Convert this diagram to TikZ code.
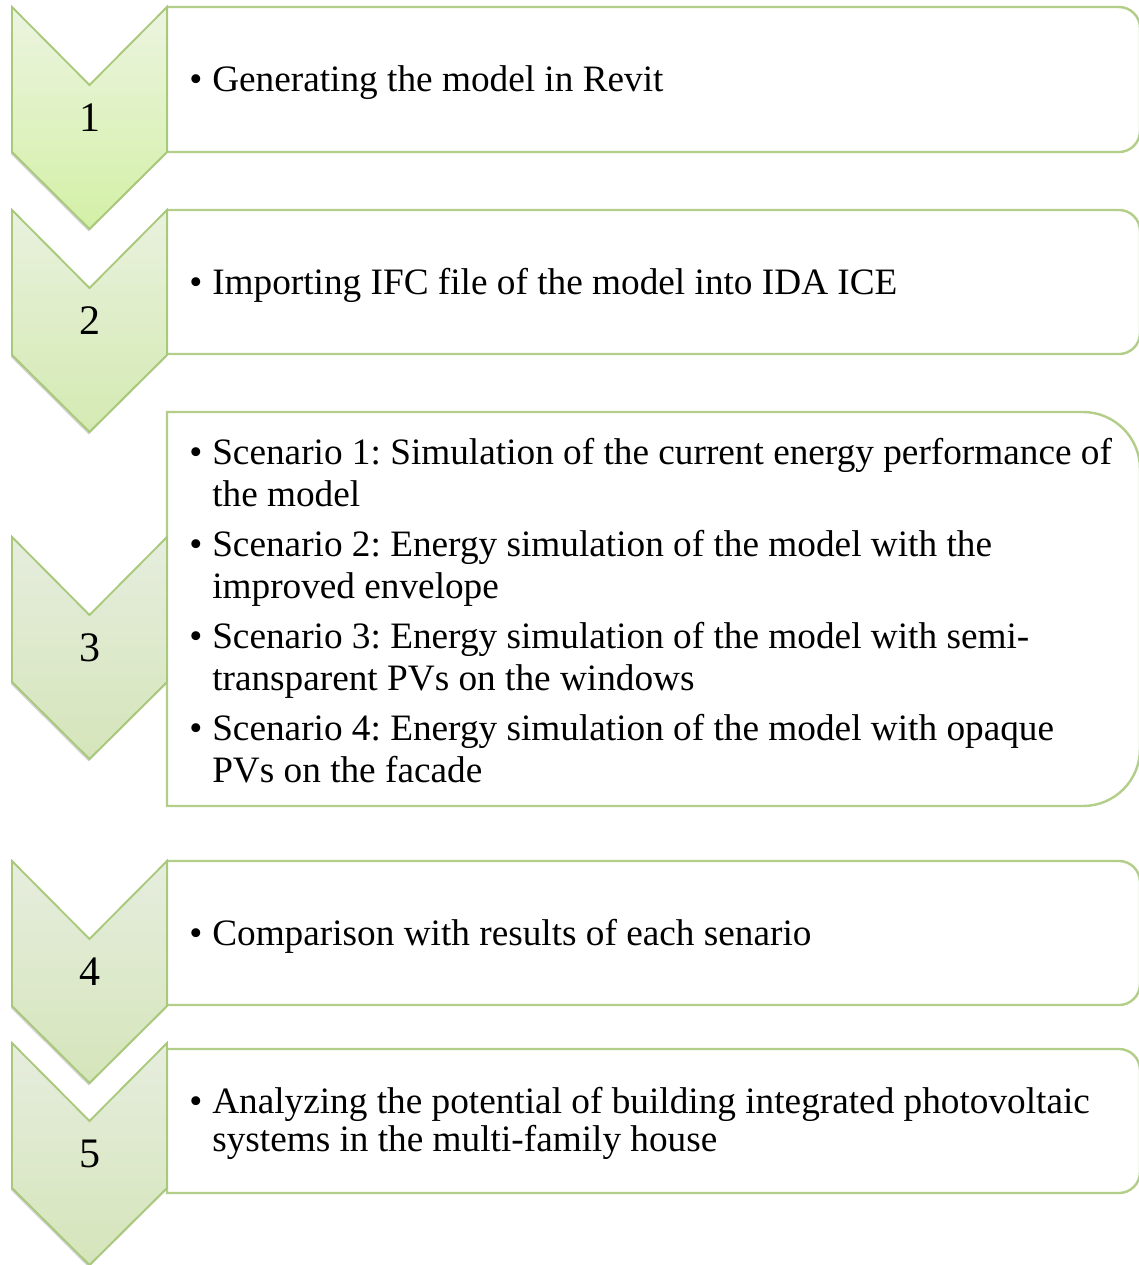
\documentclass[tikz,border=0pt]{standalone}
\usepackage{fontspec}
\setmainfont{Liberation Serif}
\usepackage{xcolor}
\usetikzlibrary{shadows}

\definecolor{chevline}{HTML}{A8C87A}
\definecolor{boxline}{HTML}{B2CE88}
\definecolor{chevtopA}{HTML}{ECF4E0}
\definecolor{chevbotA}{HTML}{D3F0A6}
\definecolor{chevtopB}{HTML}{E9F1DE}
\definecolor{chevbotB}{HTML}{D4EAB2}
\definecolor{chevtopC}{HTML}{E6EDDE}
\definecolor{chevbotC}{HTML}{D5E5BA}

\newcommand{\bitem}[1]{\par\spaceskip 0.25em\xspaceskip 0.25em\hangindent 17.25pt\hangafter 1\noindent\makebox[17.25pt][l]{\textbullet}#1\par}
\newcommand{\stepfont}[1]{\fontsize{27.95}{#1}\selectfont\frenchspacing}

\tikzset{
  chev/.style={draw=chevline, line width=1.4pt, line join=miter,
    drop shadow={shadow xshift=-0.6pt, shadow yshift=-1.8pt, opacity=0.18, fill=black}},
  listbox/.style={draw=boxline, line width=1.8pt, fill=white},
  numtext/.style={inner sep=0pt, font=\fontsize{31.5}{36}\selectfont},
  steptext/.style={anchor=west, inner sep=0pt, text width=760pt, align=left,
    font={\stepfont{31.5pt}}}
}

\begin{document}
\begin{tikzpicture}[x=0.75pt,y=0.75pt,yscale=-1,xscale=1]
\useasboundingbox (0,0) rectangle (1139,1265);

%Shape: Box 1
\draw[listbox] (167,152) -- (167,7) -- (1119,7) .. controls (1130.6,7) and (1140,16.4) .. (1140,28) -- (1140,131) .. controls (1140,142.6) and (1130.6,152) .. (1119,152) -- cycle ;
%Shape: Box 2
\draw[listbox] (167,354) -- (167,210) -- (1119,210) .. controls (1130.6,210) and (1140,219.4) .. (1140,231) -- (1140,333) .. controls (1140,344.6) and (1130.6,354) .. (1119,354) -- cycle ;
%Shape: Box 3
\draw[listbox] (167,806) -- (167,412) -- (1083,412) .. controls (1114.5,412) and (1140,437.5) .. (1140,469) -- (1140,749) .. controls (1140,780.5) and (1114.5,806) .. (1083,806) -- cycle ;
%Shape: Box 4
\draw[listbox] (167,1005) -- (167,861) -- (1119,861) .. controls (1130.6,861) and (1140,870.4) .. (1140,882) -- (1140,984) .. controls (1140,995.6) and (1130.6,1005) .. (1119,1005) -- cycle ;
%Shape: Box 5
\draw[listbox] (167,1193) -- (167,1049) -- (1119,1049) .. controls (1130.6,1049) and (1140,1058.4) .. (1140,1070) -- (1140,1172) .. controls (1140,1183.6) and (1130.6,1193) .. (1119,1193) -- cycle ;

%Shape: Chevron 1
\draw[chev, top color=chevtopA, bottom color=chevbotA] (12,7) -- (89.5,85) -- (167,7) -- (167,152) -- (89.5,229) -- (12,152) -- cycle ;
%Shape: Chevron 2
\draw[chev, top color=chevtopB, bottom color=chevbotB] (12,210) -- (89.5,288) -- (167,210) -- (167,355) -- (89.5,432) -- (12,355) -- cycle ;
%Shape: Chevron 3
\draw[chev, top color=chevtopC, bottom color=chevbotC] (12,537) -- (89.5,615) -- (167,537) -- (167,682) -- (89.5,759) -- (12,682) -- cycle ;
%Shape: Chevron 4
\draw[chev, top color=chevtopC, bottom color=chevbotC] (12,861) -- (89.5,939) -- (167,861) -- (167,1006) -- (89.5,1083) -- (12,1006) -- cycle ;
%Shape: Chevron 5
\draw[chev, top color=chevtopC, bottom color=chevbotC] (12,1043) -- (89.5,1121) -- (167,1043) -- (167,1188) -- (89.5,1265) -- (12,1188) -- cycle ;

% Number Nodes
\node[numtext] (num1) at (89.5,117.5) {1};
\node[numtext] (num2) at (89.5,320.5) {2};
\node[numtext] (num3) at (89.5,647.5) {3};
\node[numtext] (num4) at (89.5,971.5) {4};
\node[numtext] (num5) at (89.5,1154) {5};

% Text Nodes
\node[steptext] (txt1) at (189,75) {\bitem{Generating the model in Revit}};
\node[steptext] (txt2) at (189,278) {\bitem{Importing IFC file of the model into IDA ICE}};
\node[steptext] (txt3) at (189,599) {\setlength{\parskip}{6pt}%
  \bitem{Scenario 1: Simulation of the current energy performance of\newline the model}
  \bitem{Scenario 2: Energy simulation of the model with the\newline improved envelope}
  \bitem{Scenario 3: Energy simulation of the model with semi-\newline transparent PVs on the windows}
  \bitem{Scenario 4: Energy simulation of the model with opaque\newline PVs on the facade}};
\node[steptext] (txt4) at (189,928) {\bitem{Comparison with results of each senario}};
\node[steptext, font={\stepfont{28.5pt}}] (txt5) at (189,1118) {\bitem{Analyzing the potential of building integrated photovoltaic\newline systems in the multi-family house}};

\end{tikzpicture}
\end{document}
